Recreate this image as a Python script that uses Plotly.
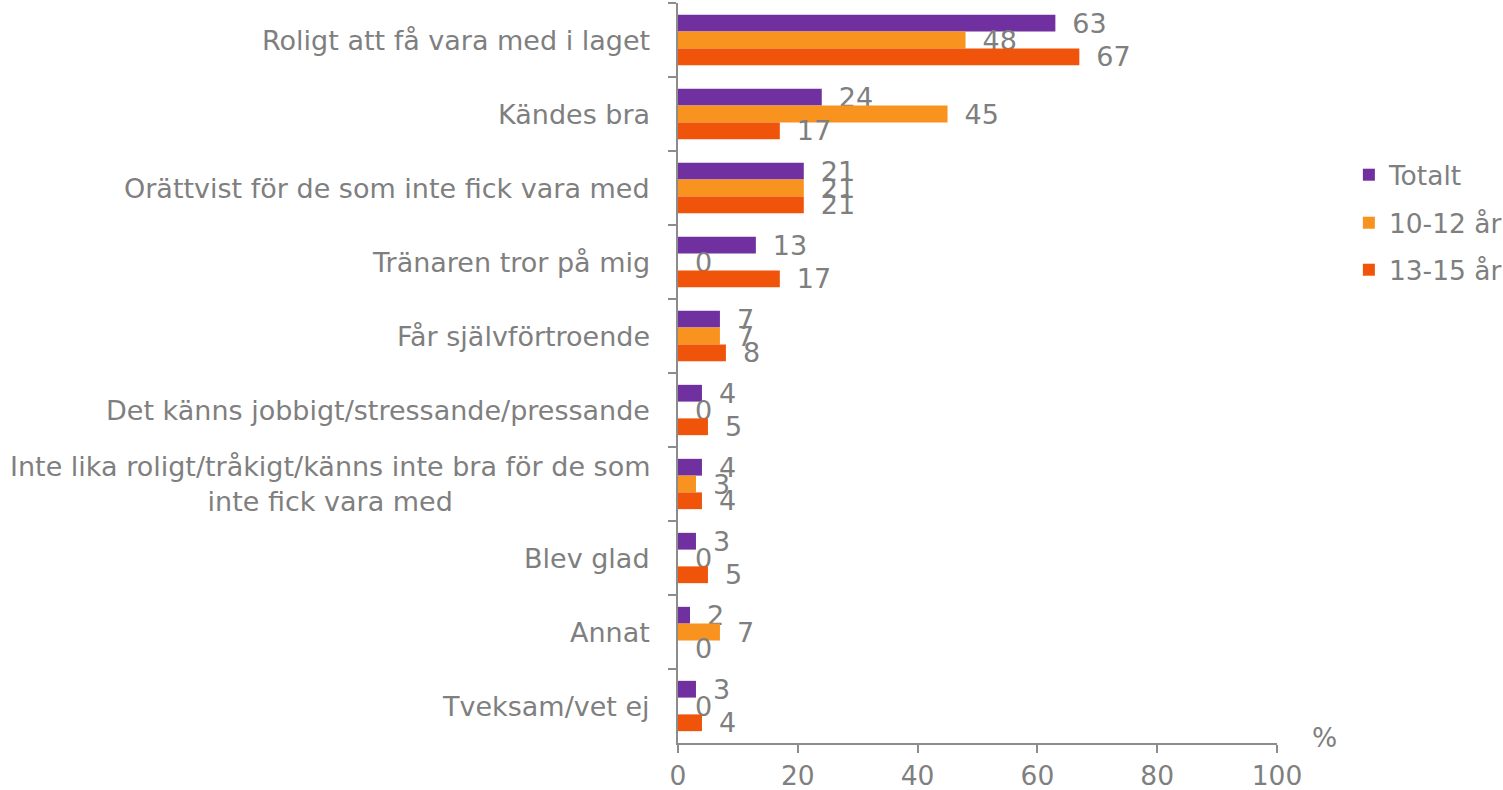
import plotly.graph_objects as go

categories = [
    "Roligt att få vara med i laget",
    "Kändes bra",
    "Orättvist för de som inte fick vara med",
    "Tränaren tror på mig",
    "Får självförtroende",
    "Det känns jobbigt/stressande/pressande",
    "Inte lika roligt/tråkigt/känns inte bra för de som<br>inte fick vara med",
    "Blev glad",
    "Annat",
    "Tveksam/vet ej",
]
totalt = [63, 24, 21, 13, 7, 4, 4, 3, 2, 3]
ar_10_12 = [48, 45, 21, 0, 7, 0, 3, 0, 7, 0]
ar_13_15 = [67, 17, 21, 17, 8, 5, 4, 5, 0, 4]

series = [
    ("Totalt", totalt, "#7030A0"),
    ("10-12 år", ar_10_12, "#F7931E"),
    ("13-15 år", ar_13_15, "#F0540A"),
]

FONT = "DejaVu Sans, Verdana, sans-serif"
GREY = "#7F7F7F"
AXIS = "#8C8C8C"
FS = 26.5

fig = go.Figure()
legend_ids = ["legend", "legend2", "legend3"]
for (name, vals, color), lg in zip(series, legend_ids):
    fig.add_trace(go.Bar(
        name=name,
        y=categories,
        x=vals,
        orientation="h",
        marker=dict(color=color, line=dict(width=0)),
        text=vals,
        texttemplate="\u00a0\u2009%{x}",
        textposition="outside",
        constraintext="none",
        cliponaxis=False,
        textfont=dict(family=FONT, size=27, color=GREY),
        legend=lg,
        showlegend=True,
    ))

legend_style = dict(
    font=dict(family=FONT, size=FS, color=GREY),
    bgcolor="rgba(0,0,0,0)",
    xanchor="left",
    yanchor="middle",
    itemwidth=30,
)
fig.update_layout(
    width=1503,
    height=790,
    showlegend=True,
    barmode="group",
    bargap=0.32,
    bargroupgap=0,
    paper_bgcolor="white",
    plot_bgcolor="white",
    margin=dict(l=678, r=226, t=3, b=47, autoexpand=False),
    font=dict(family=FONT, size=FS, color=GREY),
    legend=dict(x=1.12, y=0.7676, **legend_style),
    legend2=dict(x=1.12, y=0.7027, **legend_style),
    legend3=dict(x=1.12, y=0.6392, **legend_style),
    xaxis=dict(
        range=[0, 100],
        tickvals=[0, 20, 40, 60, 80, 100],
        showgrid=False,
        zeroline=False,
        showline=True,
        linecolor=AXIS,
        linewidth=2,
        ticks="outside",
        ticklen=8,
        tickwidth=2,
        tickcolor=AXIS,
        tickfont=dict(family=FONT, size=FS, color=GREY),
    ),
    yaxis=dict(
        autorange="reversed",
        showticklabels=False,
        showgrid=False,
        showline=True,
        linecolor=AXIS,
        linewidth=2,
        ticks="outside",
        tickson="boundaries",
        ticklen=8,
        tickwidth=2,
        tickcolor=AXIS,
    ),
)

# Category labels, centred across lines and right-aligned to the axis
for cat in categories:
    fig.add_annotation(
        x=0, xref="paper", y=cat, yref="y",
        text=cat, showarrow=False,
        xanchor="right", yanchor="middle", align="center",
        xshift=-26,
        font=dict(family=FONT, size=27, color=GREY),
    )

fig.add_annotation(
    x=1.08, xref="paper", y=0.008, yref="paper",
    text="%", showarrow=False,
    xanchor="center", yanchor="middle",
    font=dict(family=FONT, size=FS, color=GREY),
)

fig.write_html("out.html")
